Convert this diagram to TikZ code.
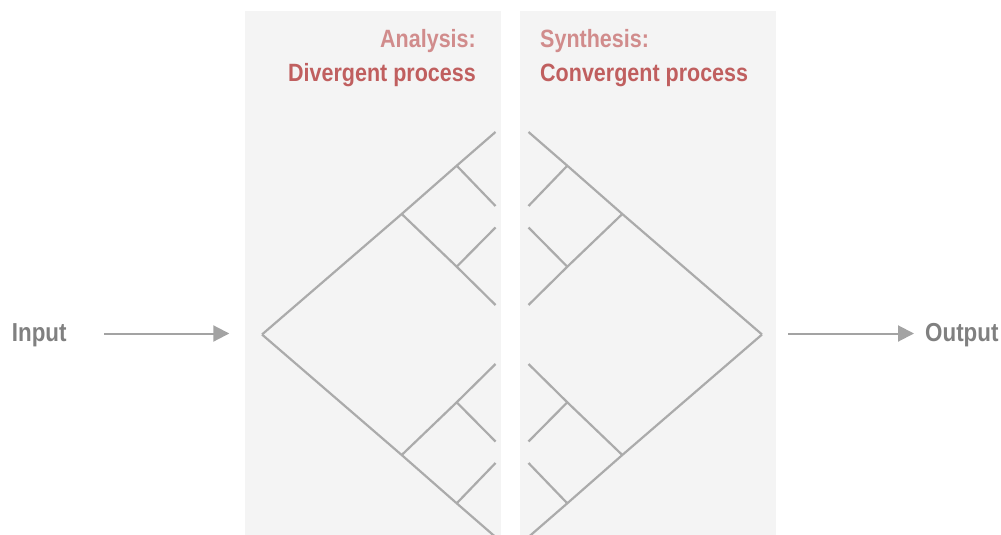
\documentclass[tikz,border=0pt]{standalone}
\usepackage{fontspec}
\newfontfamily\condfont[FakeStretch=0.86]{Liberation Sans}
\usepackage{tikz}
\usetikzlibrary{arrows.meta}

\definecolor{panelgray}{HTML}{F4F4F4}
\definecolor{linegray}{HTML}{ABABAB}
\definecolor{arrowgray}{HTML}{A3A3A3}
\definecolor{labelgray}{HTML}{808080}
\definecolor{titlelight}{HTML}{D18C8C}
\definecolor{titledark}{HTML}{C05F5F}

\begin{document}
\begin{tikzpicture}[
  x=1pt, y=-1pt,
  every node/.style={inner sep=0pt, font=\condfont\bfseries\fontsize{25}{30}\selectfont},
  panel/.style={fill=panelgray, draw=none},
  branch/.style={draw=linegray, line width=2.2pt},
  head/.style={text=titlelight},
  subhead/.style={text=titledark},
  io/.style={text=labelgray, font=\condfont\bfseries\fontsize{26}{30}\selectfont},
  arr/.style={draw=arrowgray, line width=2pt, -{Triangle[length=16pt, width=16pt]}, fill=arrowgray}
]
\useasboundingbox (0,0) rectangle (1001,535);

% the two panels
\fill[panel] (245,11) rectangle (500.7,535);
\fill[panel] (520,11) rectangle (775.7,535);

% trees: left one drawn, right one mirrored about x=512
\begin{scope}
\clip (0,0) rectangle (1001,535);
\foreach \sd/\dx/\sx in {L/0/1, R/1024/-1} {
  \begin{scope}[xshift=\dx pt, xscale=\sx]
    \coordinate (root\sd) at (262,334.5);
    \coordinate (a\sd) at (401.7,214);
    \coordinate (b\sd) at (401.7,455);
    \coordinate (aa\sd) at (456.7,165.7);
    \coordinate (ab\sd) at (456.7,266.7);
    \coordinate (ba\sd) at (456.7,402.3);
    \coordinate (bb\sd) at (456.7,503.3);
    \coordinate (aa1\sd) at (495.5,132);
    \coordinate (aa2\sd) at (495.5,206);
    \coordinate (ab1\sd) at (495.5,227.5);
    \coordinate (ab2\sd) at (495.5,305);
    \coordinate (ba1\sd) at (495.5,364);
    \coordinate (ba2\sd) at (495.5,441.5);
    \coordinate (bb1\sd) at (495.5,463);
    \coordinate (bb2\sd) at (495.5,537);

    \draw[branch] (root\sd) -- (a\sd) -- (aa\sd) -- (aa1\sd);
    \draw[branch] (aa\sd) -- (aa2\sd);
    \draw[branch] (a\sd) -- (ab\sd) -- (ab2\sd);
    \draw[branch] (ab\sd) -- (ab1\sd);
    \draw[branch] (root\sd) -- (b\sd) -- (bb\sd) -- (bb2\sd);
    \draw[branch] (bb\sd) -- (bb1\sd);
    \draw[branch] (b\sd) -- (ba\sd) -- (ba1\sd);
    \draw[branch] (ba\sd) -- (ba2\sd);
  \end{scope}
}
\end{scope}

% titles
\node[head, anchor=base east] (ana) at (476,47.3) {Analysis:};
\node[subhead, anchor=base east] (div) at (476,81.7) {Divergent process};
\node[head, anchor=base west] (syn) at (540,47.3) {Synthesis:};
\node[subhead, anchor=base west] (con) at (540,81.7) {Convergent process};

% input and output
\node[io, anchor=base west] (in) at (11.7,341.7) {Input};
\node[io, anchor=base west] (out) at (925,341.7) {Output};

\coordinate (inS) at (104.3,333.5);
\coordinate (inE) at (229.3,333.5);
\coordinate (outS) at (788.3,333.5);
\coordinate (outE) at (914,333.5);

\draw[arr] (inS) -- (inE);
\draw[arr] (outS) -- (outE);
\end{tikzpicture}
\end{document}
